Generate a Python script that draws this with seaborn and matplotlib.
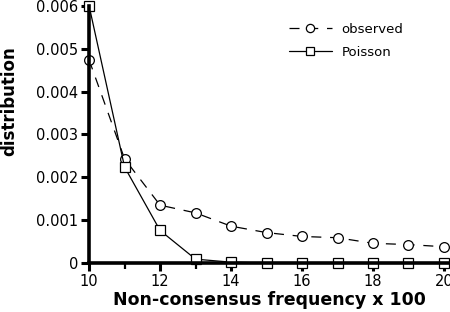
import matplotlib
matplotlib.use("Agg")
import matplotlib.pyplot as plt
import matplotlib.ticker as mticker
import seaborn as sns
import pandas as pd

# values
freq = [10, 11, 12, 13, 14, 15, 16, 17, 18, 19, 20]
observed = [0.00474, 0.00243, 0.00135, 0.00117, 0.00086, 0.00071, 0.00062,
            0.00059, 0.00046, 0.00043, 0.00038]
poisson = [0.0060, 0.00224, 0.00076, 0.00009, 0.00002, 0.0, 0.0, 0.0, 0.0, 0.0, 0.0]

df = pd.DataFrame({"freq": freq, "observed": observed, "Poisson": poisson})

sns.set_theme(style="ticks")
plt.rcParams["font.family"] = ["DejaVu Sans"]
plt.rcParams["text.color"] = "black"
plt.rcParams["axes.labelcolor"] = "black"

fig = plt.figure(figsize=(4.5, 3.12), dpi=100)
ax = fig.add_axes([0.198, 0.157, 0.802, 0.824])

sns.lineplot(data=df, x="freq", y="observed", ax=ax, color="black", lw=0.9,
             marker="o", markersize=7, markerfacecolor="white", markeredgecolor="black",
             markeredgewidth=0.9, label="observed", clip_on=False)
ax.lines[-1].set_dashes([8, 7])
sns.lineplot(data=df, x="freq", y="Poisson", ax=ax, color="black", lw=0.9,
             marker="s", markersize=7, markerfacecolor="white", markeredgecolor="black",
             markeredgewidth=0.9, label="Poisson", clip_on=False)

ax.set_xlim(10, 20.17)
ax.set_ylim(0, 0.006)
ax.xaxis.set_major_locator(mticker.MultipleLocator(2))
ax.xaxis.set_minor_locator(mticker.MultipleLocator(1))
ax.yaxis.set_major_locator(mticker.MultipleLocator(0.001))
ax.yaxis.set_major_formatter(mticker.FuncFormatter(lambda v, _: "0" if v == 0 else f"{v:.3f}"))

for s in ["top", "right"]:
    ax.spines[s].set_visible(False)
for s in ["left", "bottom"]:
    ax.spines[s].set_linewidth(2.6)
    ax.spines[s].set_color("black")

ax.tick_params(axis="both", which="major", length=6, width=2.2, labelsize=10.5,
               colors="black", labelcolor="black", pad=2)
ax.tick_params(axis="x", which="minor", length=4, width=1.6, colors="black")

ax.set_xlabel("Non-consensus frequency x 100", fontsize=12.5, fontweight="bold", labelpad=1)
ax.set_ylabel("distribution", fontsize=12, fontweight="bold")
ax.yaxis.set_label_coords(-0.196, 0.63)

ax.legend(loc="upper left", bbox_to_anchor=(0.52, 0.98), frameon=False, fontsize=9.5,
          handlelength=3.3, handletextpad=0.7, labelspacing=0.75, markerscale=0.85)

fig.savefig("out.png", dpi=100)
